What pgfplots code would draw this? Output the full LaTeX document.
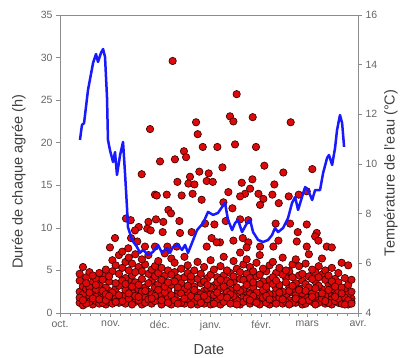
\documentclass[border=0pt]{standalone}
\usepackage{pgfplots}
\usepackage{pgfplotstable}
\pgfplotsset{compat=1.18}
\usepackage{fontspec}
\setmainfont{Liberation Sans}
\definecolor{ptred}{RGB}{220,10,10}
\definecolor{ptedge}{RGB}{60,0,0}
\definecolor{axgray}{RGB}{140,140,140}
\definecolor{tblue}{RGB}{25,25,255}

\pgfplotstableread{
d a b c e f
12 1.2 2.5 3.8 4.6 1.8
14 0.9 3.1 2.2 5.4 1.5
16 1.6 4.2 2.8 1.1 3.5
18 2.0 1.3 4.8 3.0 2.4
20 1.0 3.6 2.1 4.4 1.7
22 1.4 2.7 4.0 1.9 3.3
24 2.3 1.1 3.4 4.7 1.6
26 1.8 4.5 2.6 1.2 3.9
28 1.0 3.0 5.1 2.2 1.5
30 2.6 1.3 3.7 4.3 2.0
32 1.5 4.9 2.4 6.2 1.1
34 2.9 1.7 3.5 5.6 1.3
36 1.2 3.2 4.6 2.1 6.8
38 2.0 5.3 1.4 3.8 7.2
40 1.1 2.7 4.1 6.0 3.4
42 1.7 3.9 2.3 5.0 6.5
44 2.4 1.0 4.4 3.1 5.8
46 1.3 3.6 2.0 6.9 4.8
48 2.8 1.5 5.4 3.3 1.9
50 1.0 4.0 2.5 4.9 6.3
52 1.9 3.0 1.2 5.7 2.6
54 2.5 4.6 1.6 3.5 6.8
56 1.1 2.2 3.8 5.1 1.7
58 3.0 1.4 4.3 2.0 5.5
60 1.6 3.4 2.7 4.7 6.1
62 2.2 1.0 3.9 5.3 1.5
64 1.3 4.4 2.4 3.1 7.0
66 2.7 1.8 5.0 1.2 3.6
68 1.0 3.3 2.1 4.5 6.4
70 2.0 4.8 1.5 3.7 5.9
72 1.4 2.6 4.1 1.1 3.0
74 2.9 1.2 3.5 5.2 2.3
76 1.1 4.2 2.8 6.6 1.7
78 2.4 1.6 4.7 3.2 5.6
80 1.5 3.8 2.0 1.0 4.3
82 2.1 1.3 3.1 5.0 2.7
84 1.0 2.4 4.0 1.8 6.0
86 1.7 3.5 2.2 4.6 1.2
88 2.6 1.1 3.7 5.4 2.0
90 1.3 4.1 2.9 1.6 3.3
92 2.2 1.0 4.5 3.0 6.2
94 1.5 3.2 2.1 5.1 1.1
96 2.8 1.6 4.2 3.6 2.4
98 1.0 2.9 5.5 1.9 3.9
100 2.0 4.4 1.3 3.1 6.6
102 1.4 2.5 3.8 5.0 1.8
104 2.7 1.1 4.7 2.2 3.5
106 1.2 3.6 2.0 6.1 4.3
108 2.3 1.5 5.2 3.0 1.0
110 1.0 4.0 2.6 4.8 7.1
112 1.8 2.8 1.3 3.9 5.7
114 2.5 4.6 1.7 3.3 6.3
116 1.1 2.2 4.1 5.4 1.5
118 3.0 1.4 3.6 2.0 4.9
120 1.6 4.3 2.4 5.9 1.2
122 2.1 1.0 3.4 4.5 6.8
124 1.3 3.7 2.7 1.8 5.2
126 2.6 1.2 4.9 3.1 2.0
128 1.0 3.9 2.2 5.6 1.6
130 2.2 1.5 4.2 3.4 6.0
132 1.4 4.7 2.9 1.1 3.8
134 2.8 1.8 3.3 5.3 2.4
136 1.1 2.5 4.5 1.6 6.5
138 2.0 4.1 1.3 3.6 5.0
140 1.5 3.0 2.6 4.9 1.0
142 2.4 1.2 5.7 3.2 4.2
144 1.2 3.5 2.1 6.3 1.7
146 2.9 1.6 4.4 2.7 5.5
148 1.0 3.8 2.3 4.6 1.4
150 1.9 1.1 3.4 5.8 2.6
152 2.6 4.3 1.5 3.0 6.9
154 1.3 2.4 4.0 1.9 5.1
156 2.1 3.7 1.0 4.8 2.9
158 1.5 1.2 3.2 5.5 4.2
160 2.8 4.5 1.7 2.3 6.4
162 1.1 2.0 3.9 5.0 1.4
164 2.3 3.4 1.2 4.4 2.7
166 1.6 1.0 2.8 3.7 5.3
168 2.5 4.0 1.4 3.1 1.9
170 1.2 2.6 3.6 1.7 4.7
172 2.0 1.1 3.0 2.3 5.9
174 1.4 2.9 1.8 4.1 1.0
176 1.0 2.2 3.3 1.5 5.6
178 1.7 1.3 2.5 3.9 1.1
}\bottomdata

\pgfplotstableread{
d h
68.8 29.6
107.9 25.7
103.8 23.1
105.9 22.5
117.7 23.0
140.9 22.4
83.1 22.4
55.0 21.6
84.1 21.0
87.2 19.5
96.1 19.5
106.9 19.8
119.7 19.5
75.7 19.0
77.0 18.3
70.2 18.05
61.1 17.8
99.2 17.1
124.8 17.3
49.9 16.3
85.1 16.6
90.8 16.4
79.4 16.0
78.4 15.2
82.1 15.1
71.7 15.4
89.6 15.5
93.3 15.4
136.4 16.5
154.1 16.9
111.0 15.3
117.5 15.7
130.9 15.1
116.1 14.6
58.0 13.9
59.1 13.8
65.2 13.9
74.3 13.8
81.0 14.0
86.5 13.3
102.8 14.2
113.0 14.0
110.0 13.7
121.2 14.0
124.2 13.4
129.7 13.9
122.2 12.7
133.6 12.9
139.7 13.7
145.8 13.9
150.7 14.3
99.8 13.0
105.3 12.3
66.2 12.1
67.8 11.7
40.3 11.1
43.2 10.9
54.0 10.7
58.6 11.0
63.1 10.7
72.9 10.8
48.1 10.1
45.8 9.7
53.3 9.9
55.4 9.7
62.7 9.5
73.3 9.4
80.4 9.5
88.6 10.5
94.3 10.4
101.2 10.8
110.0 11.0
115.0 10.9
131.7 10.5
140.5 10.5
150.7 10.4
145.2 9.5
156.8 9.4
33.6 8.8
43.4 8.8
47.2 8.4
92.6 8.8
97.7 8.3
105.9 8.5
111.6 8.8
115.0 8.3
133.4 8.5
144.6 8.4
155.8 9.0
157.8 8.5
30.5 7.7
41.7 7.6
51.9 7.8
58.0 7.8
65.6 7.8
71.3 7.8
89.6 7.8
95.7 8.3
114.0 7.7
122.2 7.8
130.3 7.8
150.7 7.8
162.9 7.8
166.0 7.7
}\upperdata

\pgfplotstableread{
d t
12.2 10.97
13.4 11.57
14.7 11.65
17.1 12.98
20.2 14.07
22.0 14.43
23.2 14.11
25.0 14.47
26.3 14.63
27.5 14.31
28.7 12.70
29.3 10.97
30.5 10.56
32.4 10.08
33.6 10.48
34.8 9.56
36.7 10.36
38.5 10.89
39.7 9.64
40.9 8.27
41.5 7.46
44.0 6.94
47.0 6.66
48.9 6.42
50.7 6.54
53.8 6.34
56.8 6.46
59.9 6.74
62.3 6.42
65.4 6.62
67.2 6.42
69.0 6.66
72.1 6.74
74.5 6.54
76.4 6.74
78.2 6.42
80.6 6.82
83.7 7.34
87.4 7.62
90.4 8.07
93.5 7.95
96.5 8.03
99.0 8.27
100.8 8.43
102.6 7.75
105.1 7.34
106.9 7.62
108.7 7.75
111.2 7.26
114.2 7.62
116.1 7.75
117.9 7.26
121.0 6.94
124.0 6.86
127.1 6.94
129.5 7.14
131.3 7.42
133.2 7.26
136.2 7.42
139.3 7.83
141.7 8.43
143.6 8.67
145.4 8.15
147.8 8.67
149.7 9.07
151.5 8.95
154.0 8.55
155.8 8.95
158.8 8.95
160.7 9.64
163.1 10.24
164.3 10.36
166.2 9.96
168.0 10.65
169.2 11.37
171.0 11.97
172.3 11.65
173.5 10.69
}\tempdata

\begin{document}
\begin{tikzpicture}
\path[use as bounding box] (-60pt,-45pt) rectangle (344pt,313pt);
\pgfplotsset{
  common/.style={
    scale only axis, width=298pt, height=298pt, at={(0,0)}, anchor=south west,
    xmin=0, xmax=182,
    axis line style={axgray, line width=0.9pt},
    tick align=outside,
    major tick length=4pt, minor tick length=3pt,
    tick style={axgray, line width=0.7pt},
    ticklabel style={font=\fontsize{10.5}{12}\selectfont, text=black!60},
    /pgf/number format/assume math mode=true,
    label style={font=\fontsize{14.5}{17}\selectfont, text=black!75},
  },
  pts/.style={only marks, mark=*, mark size=3.7pt,
    mark options={fill=ptred, draw=ptedge, line width=0.65pt}},
}
\begin{axis}[common,
  ymin=0, ymax=35,
  xtick={0,31,61,92,123,151,182},
  xticklabels={oct.,nov.,déc.,janv.,févr.,mars,avr.},
  minor xtick={6.2,12.4,18.6,24.8,37,43,49,55,67.2,73.4,79.6,85.8,98.2,104.4,110.6,116.8,128.6,134.2,139.8,145.4,157.2,163.4,169.6,175.8},
  ytick={0,5,...,35},
  xtick pos=bottom, ytick pos=left,
  xlabel={Date}, ylabel={Durée de chaque agrée (h)},
  xlabel style={at={(axis description cs:0.5,-0.124)}, anchor=center},
  ylabel style={at={(axis description cs:-0.138,0.44)}, anchor=center},
]
\addplot[pts] table[x=d,y=a]{\bottomdata};
\addplot[pts] table[x=d,y=b]{\bottomdata};
\addplot[pts] table[x=d,y=c]{\bottomdata};
\addplot[pts] table[x=d,y=e]{\bottomdata};
\addplot[pts] table[x=d,y=f]{\bottomdata};
\addplot[pts] table[x=d,y=h]{\upperdata};
\end{axis}
\begin{axis}[common,
  ymin=4, ymax=16,
  axis x line=none, axis y line*=right,
  ytick={4,6,...,16},
  ylabel={Température de l'eau (°C)},
  ylabel style={at={(axis description cs:1.11,0.47)}, anchor=center},
]
\addplot[tblue, line width=2.5pt, line join=round] table[x=d,y=t]{\tempdata};
\end{axis}
\end{tikzpicture}
\end{document}
